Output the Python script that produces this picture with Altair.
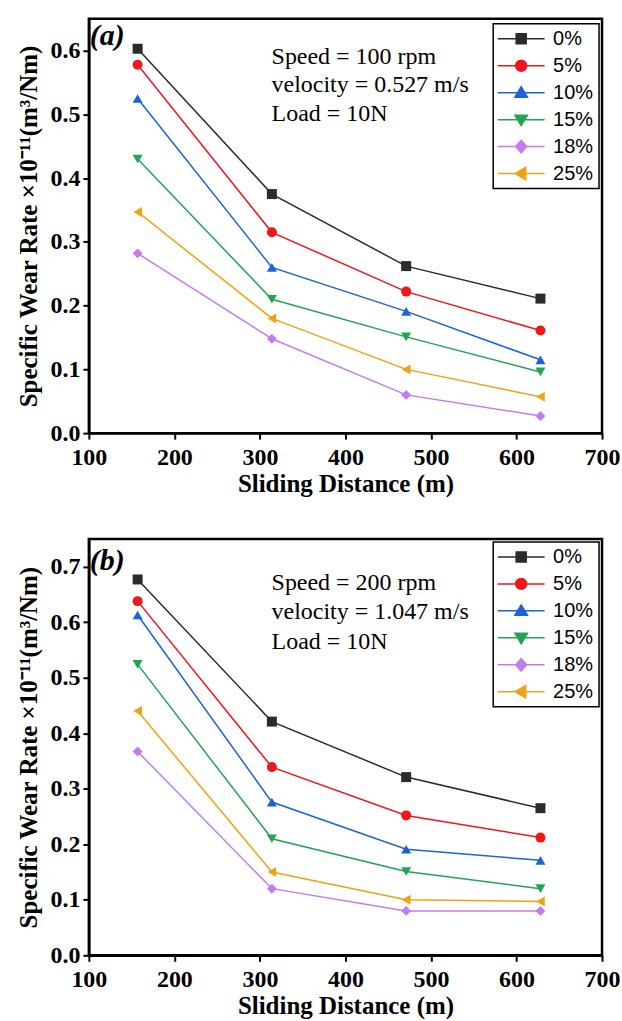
import altair as alt
import pandas as pd

# ---------------- data ----------------
distance = [157, 314, 471, 628]
series = ["0%", "5%", "10%", "15%", "18%", "25%"]

rate_a_0 = [0.603, 0.375, 0.262, 0.211]
rate_a_5 = [0.578, 0.315, 0.222, 0.161]
rate_a_10 = [0.525, 0.260, 0.191, 0.115]
rate_a_15 = [0.430, 0.210, 0.151, 0.096]
rate_a_18 = [0.282, 0.148, 0.060, 0.027]
rate_a_25 = [0.347, 0.180, 0.100, 0.057]

rate_b_0 = [0.677, 0.421, 0.321, 0.265]
rate_b_5 = [0.638, 0.339, 0.252, 0.212]
rate_b_10 = [0.613, 0.276, 0.191, 0.171]
rate_b_15 = [0.524, 0.210, 0.151, 0.120]
rate_b_18 = [0.367, 0.120, 0.080, 0.080]
rate_b_25 = [0.440, 0.150, 0.100, 0.097]

x_ticks = [100, 200, 300, 400, 500, 600, 700]
y_ticks_a = [0.0, 0.1, 0.2, 0.3, 0.4, 0.5, 0.6]
y_ticks_b = [0.0, 0.1, 0.2, 0.3, 0.4, 0.5, 0.6, 0.7]

notes_a = ["Speed = 100 rpm", "velocity = 0.527 m/s", "Load = 10N"]
notes_b = ["Speed = 200 rpm", "velocity = 1.047 m/s", "Load = 10N"]

x_title = "Sliding Distance (m)"
y_title = "Specific Wear Rate \u00d710\u207b\u00b9\u00b9(m\u00b3/Nm)"

# ---------------- styles ----------------
colors = ["#2b2b2b", "#f0161c", "#1c62d8", "#22a552", "#c47bf0", "#eea315"]
shapes = ["square", "circle", "triangle-up", "triangle-down", "diamond", "triangle-left"]
LINE = "M-4.7,0H4.7"
legend_paths = [
    LINE + "M-1,-1H1V1H-1Z",
    LINE + "M-1.1,0A1.1,1.1,0,1,1,1.1,0A1.1,1.1,0,1,1,-1.1,0Z",
    LINE + "M0,-1.2L1.25,0.9H-1.25Z",
    LINE + "M0,1.2L1.25,-0.9H-1.25Z",
    LINE + "M0,-1.25L1.1,0L0,1.25L-1.1,0Z",
    LINE + "M-1.2,0L0.9,-1.25V1.25Z",
]

SERIF = "Liberation Serif"
SANS = "Liberation Sans"
PW = 514


def make_df(rows):
    recs = []
    for s, vals in zip(series, rows):
        for d, v in zip(distance, vals):
            recs.append({"series": s, "distance": d, "rate": v})
    return pd.DataFrame(recs)


def panel(rows, ymax, yticks, notes, tag, height, note_y, note_lh, tag_y, leg_y):
    df = make_df(rows)
    x = alt.X("distance:Q",
              scale=alt.Scale(domain=[100, 700], nice=False, zero=False),
              axis=alt.Axis(values=x_ticks, format="d", title=x_title))
    y = alt.Y("rate:Q",
              scale=alt.Scale(domain=[0, ymax], nice=False, zero=True),
              axis=alt.Axis(values=yticks, format=".1f", title=y_title))
    cscale = alt.Scale(domain=series, range=colors)
    base = alt.Chart(df)
    lines = base.mark_line(strokeWidth=1.5).encode(
        x=x, y=y,
        color=alt.Color("series:N", scale=cscale, legend=None),
    )
    pts = base.mark_point(filled=True, size=100, opacity=1).encode(
        x=x, y=y,
        color=alt.Color("series:N", scale=cscale, legend=None),
        shape=alt.Shape("series:N", scale=alt.Scale(domain=series, range=shapes), legend=None),
    )
    leg = dict(
        title=None, orient="none", legendX=405, legendY=leg_y,
        strokeColor="black", padding=5,
        symbolSize=100, symbolStrokeWidth=1.5, symbolOffset=13,
        labelOffset=22, labelFont=SANS, labelFontSize=20, labelColor="black",
        rowPadding=7, values=series,
    )
    legend_layer = base.transform_filter("false").mark_point(
        filled=True, size=100, strokeWidth=1.5, opacity=1
    ).encode(
        x=x, y=y,
        fill=alt.Fill("series:N", scale=alt.Scale(domain=series, range=colors), legend=alt.Legend(**leg)),
        stroke=alt.Stroke("series:N", scale=alt.Scale(domain=series, range=colors), legend=alt.Legend(**leg)),
        shape=alt.Shape("series:N", scale=alt.Scale(domain=series, range=legend_paths), legend=alt.Legend(**leg)),
    )
    one = alt.Data(values=[{"k": 1}])
    note = alt.Chart(one).mark_text(
        font=SERIF, fontSize=24, align="left", baseline="middle", lineHeight=note_lh, color="black"
    ).encode(text=alt.value(notes), x=alt.value(183), y=alt.value(note_y))
    tagt = alt.Chart(one).mark_text(
        font=SERIF, fontSize=30, fontWeight="bold", fontStyle="italic",
        align="left", baseline="middle", color="black"
    ).encode(text=alt.value(tag), x=alt.value(1), y=alt.value(tag_y))
    return alt.layer(lines, pts, legend_layer, note, tagt).resolve_scale(
        shape="independent", fill="independent", stroke="independent"
    ).properties(width=PW, height=height)


pa = panel([rate_a_0, rate_a_5, rate_a_10, rate_a_15, rate_a_18, rate_a_25],
           0.65, y_ticks_a, notes_a, "(a)", 415, 38, 28.5, 17, 5)
pb = panel([rate_b_0, rate_b_5, rate_b_10, rate_b_15, rate_b_18, rate_b_25],
           0.75, y_ticks_b, notes_b, "(b)", 417, 44, 29.5, 22, 3)

chart = alt.vconcat(pa, pb, spacing=39).properties(
    padding={"left": 15, "top": 16, "right": 0, "bottom": 0}
).configure_view(
    stroke="black", strokeWidth=2.5
).configure_legend(
    strokeWidth=1.5
).configure_axis(
    grid=False, labelFlush=False,
    labelFont=SERIF, labelFontWeight="bold", labelFontSize=24, labelColor="black",
    titleFont=SERIF, titleFontWeight="bold", titleFontSize=25, titleColor="black",
    domainColor="black", domainWidth=2.5, tickColor="black", tickWidth=2, tickSize=6,
).configure_axisX(labelPadding=6, titlePadding=2).configure_axisY(labelPadding=3, titlePadding=8)

chart.save("out.html", embed_options={"renderer": "svg", "actions": False})
